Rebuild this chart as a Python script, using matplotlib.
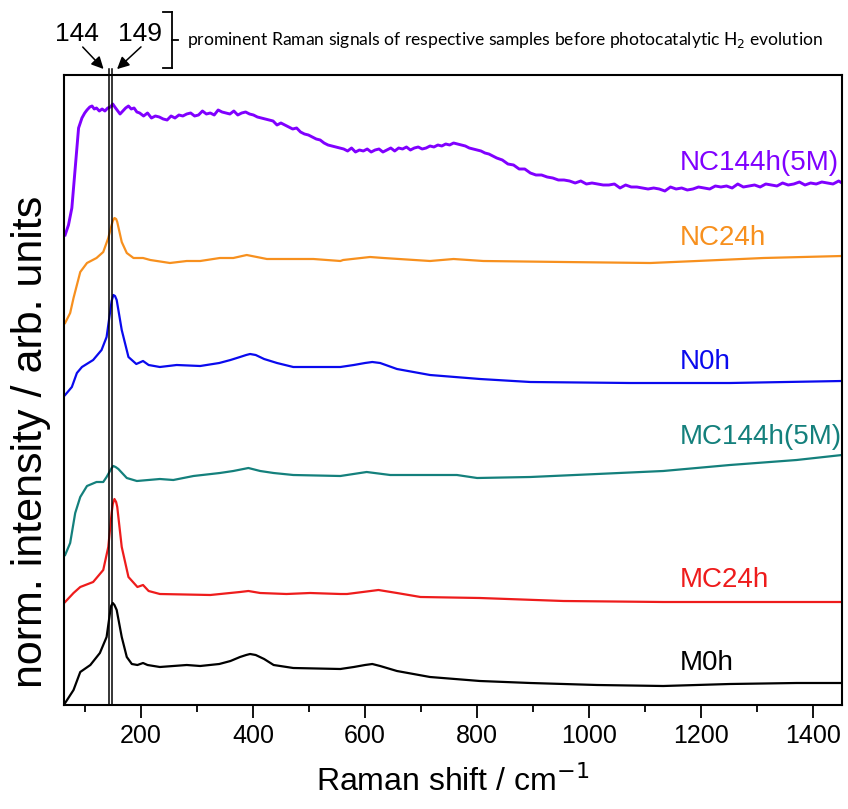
import matplotlib
matplotlib.use("Agg")
import matplotlib.pyplot as plt
from matplotlib.ticker import MultipleLocator
from matplotlib.lines import Line2D

plt.rcParams['font.family'] = ['Liberation Sans', 'DejaVu Sans']

# Raman spectra (offset, normalised), x in cm-1
m0h_x = [65, 80, 92, 110, 127, 139, 145, 147, 150, 153, 157, 166, 175, 184, 194, 204, 212, 234, 282, 306,
         340, 360, 377, 388, 395, 405, 420, 437, 472, 556, 580, 600, 613, 627, 657, 716, 805, 895,
         1014, 1132, 1251, 1370, 1451]
m0h_y = [2, 15, 33, 40, 52, 68, 92, 99, 102, 100, 95, 68, 48, 41, 40, 42, 40, 38, 40, 39,
         41, 44, 48, 50, 51, 50, 46, 40, 37, 36, 38, 40, 41, 39, 34, 28, 24, 22,
         20, 19, 21, 22, 22]

mc24h_x = [65, 80, 92, 115, 133, 142, 148, 150, 153, 156, 158, 166, 178, 194, 204, 214, 234, 324, 377, 392,
           413, 460, 502, 556, 568, 624, 657, 699, 805, 954, 1132, 1451]
mc24h_y = [103, 112, 118, 123, 135, 158, 192, 201, 206, 203, 198, 158, 128, 118, 120, 114, 111, 110, 113, 114,
           112, 111, 112, 111, 111, 115, 112, 108, 107, 104, 103, 103]

mc144h_x = [65, 74, 83, 92, 104, 121, 133, 139, 148, 151, 155, 160, 175, 193, 234, 258, 294, 341, 365, 392,
            413, 437, 472, 556, 603, 645, 764, 800, 895, 1014, 1132, 1251, 1370, 1451]
mc144h_y = [150, 162, 192, 208, 219, 223, 223, 228, 237, 239, 238, 236, 227, 224, 226, 225, 229, 232, 234, 237,
            234, 232, 230, 229, 233, 230, 230, 227, 228, 231, 234, 240, 245, 250]

n0h_x = [65, 77, 86, 95, 115, 130, 139, 145, 148, 151, 154, 157, 166, 178, 192, 204, 214, 234, 264, 306,
         340, 360, 377, 388, 395, 405, 420, 443, 472, 556, 580, 600, 613, 627, 657, 716, 805, 895,
         1073, 1251, 1451]
n0h_y = [310, 318, 332, 338, 345, 355, 368, 392, 404, 410, 409, 405, 375, 348, 341, 344, 340, 338, 340, 339,
         342, 345, 348, 350, 351, 350, 346, 342, 338, 338, 340, 342, 343, 342, 336, 330, 326, 323,
         322, 322, 324]

nc24h_x = [65, 74, 80, 86, 92, 104, 121, 133, 142, 148, 150, 153, 156, 158, 166, 175, 187, 204, 217, 252,
           282, 306, 341, 365, 389, 425, 472, 508, 556, 561, 609, 633, 716, 758, 811, 954, 1109,
           1192, 1311, 1451]
nc24h_y = [382, 392, 407, 420, 433, 442, 447, 453, 467, 480, 484, 487, 486, 483, 463, 452, 447, 447, 445, 442,
           444, 444, 447, 447, 450, 446, 446, 446, 444, 445, 448, 447, 444, 446, 444, 443, 442,
           444, 447, 449]

nc144h_x = [65, 71, 77, 83, 89, 95, 100, 104, 109, 113, 117, 121, 126, 131, 136, 141, 146, 150, 155, 159,
            163, 168, 173, 178, 183, 188, 193, 198, 205, 212, 219, 226, 233, 240, 247, 254, 261, 268,
            275, 282, 289, 296, 303, 310, 317, 324, 331, 338, 345, 352, 359, 366, 373, 380, 387, 394,
            401, 408, 415, 422, 429, 436, 443, 450, 457, 464, 471, 478, 485, 492, 499, 506, 513, 520,
            527, 534, 541, 548, 555, 562, 569, 576, 583, 590, 597, 604, 611, 618, 625, 632, 639, 646,
            653, 660, 667, 674, 681, 688, 695, 702, 709, 716, 723, 730, 737, 744, 751, 758, 765, 772,
            779, 786, 793, 800, 807, 814, 821, 828, 835, 845, 855, 865, 875, 885, 895, 905, 915, 925,
            935, 945, 955, 965, 975, 985, 995, 1005, 1015, 1025, 1035, 1045, 1055, 1065, 1075, 1085,
            1095, 1105, 1115, 1125, 1135, 1145, 1155, 1165, 1175, 1185, 1195, 1205, 1215, 1225, 1235,
            1245, 1255, 1265, 1275, 1285, 1295, 1305, 1315, 1325, 1335, 1345, 1355, 1365, 1375, 1385,
            1395, 1405, 1415, 1425, 1435, 1445, 1451]
nc144h_y = [470, 480, 497, 537, 577, 587, 592, 595, 598, 599, 596, 597, 594, 596, 594, 597, 598, 601, 597, 594,
            591, 594, 597, 599, 596, 597, 593, 592, 589, 592, 587, 589, 588, 586, 585, 589, 587, 590,
            589, 591, 592, 589, 590, 594, 591, 592, 590, 595, 593, 592, 591, 594, 590, 592, 593, 591,
            590, 588, 587, 586, 585, 584, 580, 582, 580, 578, 576, 577, 573, 571, 570, 568, 566, 565,
            562, 560, 559, 558, 557, 556, 554, 557, 553, 555, 554, 556, 553, 555, 556, 553, 555, 557,
            554, 557, 556, 558, 555, 557, 558, 556, 557, 559, 558, 560, 559, 561, 560, 562, 561, 560,
            559, 557, 556, 555, 554, 552, 551, 549, 547, 545, 541, 540, 536, 536, 532, 530, 530, 528,
            527, 525, 525, 524, 522, 524, 521, 522, 521, 520, 520, 521, 517, 520, 518, 518,
            517, 516, 517, 516, 514, 518, 516, 517, 515, 516, 518, 517, 516, 519, 518,
            519, 517, 521, 518, 519, 520, 518, 521, 520, 519, 522, 520, 521, 523, 520,
            522, 521, 523, 522, 521, 524, 522]

series = [
    (m0h_x, m0h_y, '#000000', 'M0h', 42),
    (mc24h_x, mc24h_y, '#ee1c1c', 'MC24h', 125),
    (mc144h_x, mc144h_y, '#14807c', 'MC144h(5M)', 268),
    (n0h_x, n0h_y, '#0a0aee', 'N0h', 343),
    (nc24h_x, nc24h_y, '#f7901e', 'NC24h', 467),
    (nc144h_x, nc144h_y, '#8000ff', 'NC144h(5M)', 542),
]
label_x = 1162
signal_lines = [144, 149]

fig = plt.figure(figsize=(8.48, 8.09), dpi=100)
ax = fig.add_axes([64 / 848, 1 - 705 / 809, 778 / 848, 630 / 809])

for xs, ys, col, name, ly in series:
    lw = 2.1 if name == 'NC144h(5M)' else 1.6
    ax.plot(xs, ys, color=col, lw=lw)
    ax.text(label_x, ly, name, color=col, fontsize=20, va='center', ha='left')

ax.set_xlim(63, 1451)
ax.set_ylim(0, 630)

# marker lines for the prominent signals, reaching above the frame
for wn in signal_lines:
    ax.plot([wn, wn], [0, 636], color='black', lw=1.1, clip_on=False, zorder=5)

ax.set_yticks([])
ax.xaxis.set_major_locator(MultipleLocator(200))
ax.xaxis.set_minor_locator(MultipleLocator(100))
ax.tick_params(axis='x', which='major', length=9, width=1.3, labelsize=18, direction='out', pad=5)
ax.tick_params(axis='x', which='minor', length=5, width=1.3, direction='out')
for sp in ax.spines.values():
    sp.set_linewidth(1.5)

ax.set_xlabel('Raman shift / cm$^{-1}$', fontsize=23, labelpad=12)
ax.set_ylabel('norm. intensity / arb. units', fontsize=31)
ax.yaxis.set_label_coords(-0.017, 0.417)

# signal annotations above the plot
narrow = ['Liberation Sans Narrow', 'Liberation Sans', 'DejaVu Sans']
ax.text(86, 671, '144', fontsize=19, ha='center', va='center', family=narrow)
ax.text(199, 671, '149', fontsize=19, ha='center', va='center', family=narrow)
arrow = dict(arrowstyle='-|>', color='black', lw=1.1, mutation_scale=18)
ax.annotate('', xy=(137, 634), xytext=(93, 660), arrowprops=arrow, annotation_clip=False)
ax.annotate('', xy=(154, 634), xytext=(204, 660), arrowprops=arrow, annotation_clip=False)

# bracket grouping both values
H = 809
bx = 172
fig.add_artist(Line2D([bx / 848, bx / 848], [1 - 12 / H, 1 - 68 / H], color='black', lw=1.3))
fig.add_artist(Line2D([163 / 848, bx / 848], [1 - 12 / H, 1 - 12 / H], color='black', lw=1.3))
fig.add_artist(Line2D([163 / 848, bx / 848], [1 - 68 / H, 1 - 68 / H], color='black', lw=1.3))
fig.add_artist(Line2D([bx / 848, 178 / 848], [1 - 40 / H, 1 - 40 / H], color='black', lw=1.3))
fig.text(187 / 848, 1 - 40 / H,
         'prominent Raman signals of respective samples before photocatalytic H$_2$ evolution',
         fontsize=12.6, family=['Lato', 'DejaVu Sans'], va='center', ha='left')

fig.savefig('out.png', dpi=100)
